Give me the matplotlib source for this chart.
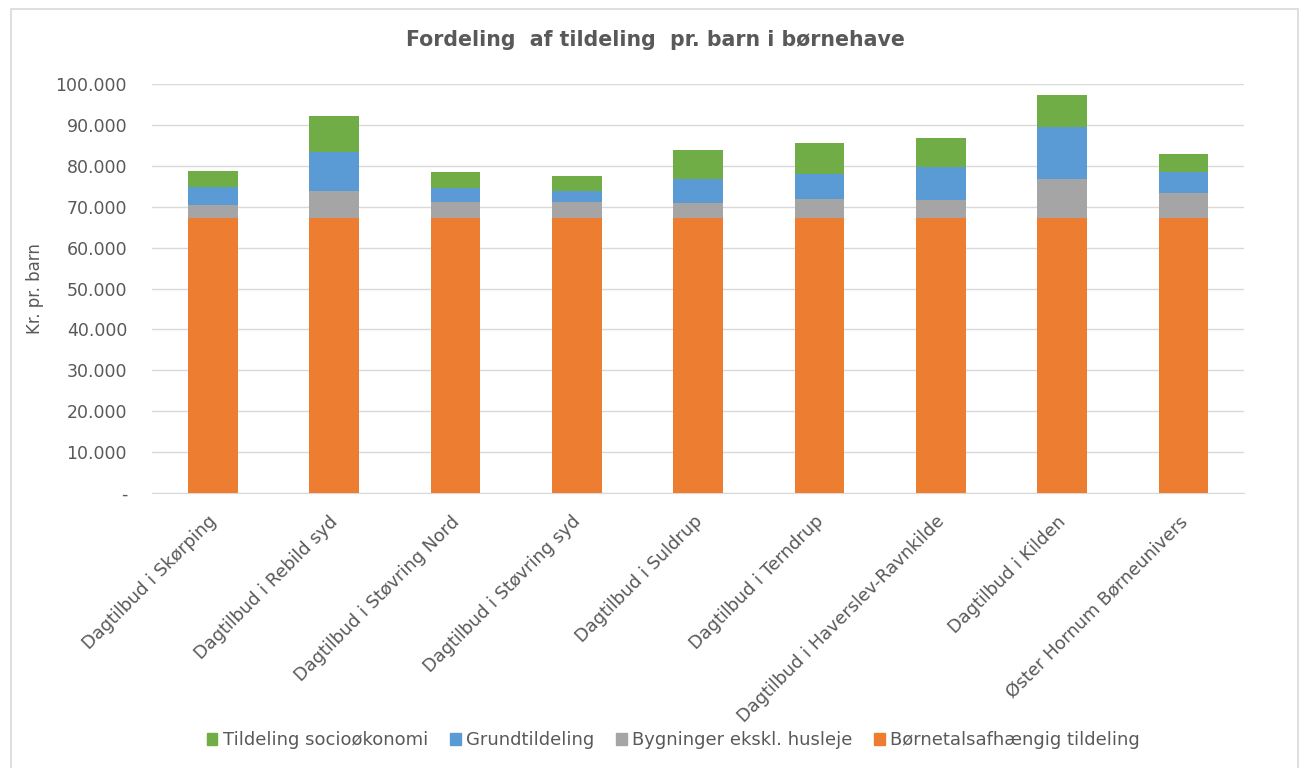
import matplotlib.pyplot as plt
from matplotlib.patches import Patch, Rectangle
from matplotlib.ticker import FuncFormatter
import matplotlib.transforms as mtransforms
import numpy as np

institutions = [
    'Dagtilbud i Skørping',
    'Dagtilbud i Rebild syd',
    'Dagtilbud i Støvring Nord',
    'Dagtilbud i Støvring syd',
    'Dagtilbud i Suldrup',
    'Dagtilbud i Terndrup',
    'Dagtilbud i Haverslev-Ravnkilde',
    'Dagtilbud i Kilden',
    'Øster Hornum Børneunivers',
]

# kr. pr. barn, one list per allocation component
boernetal = [67200, 67200, 67200, 67200, 67200, 67200, 67200, 67200, 67200]
bygninger = [3200, 6600, 4000, 4000, 3600, 4800, 4400, 9600, 6200]
grundtildeling = [4500, 9600, 3400, 2600, 6000, 6000, 8200, 12600, 5200]
socio = [3800, 8800, 3800, 3800, 7100, 7700, 7100, 7800, 4200]

c_orange = '#ED7D31'
c_gray = '#A5A5A5'
c_blue = '#5B9BD5'
c_green = '#70AD47'
txt = '#595959'

plt.rcParams['font.family'] = 'DejaVu Sans'

fig = plt.figure(figsize=(13, 7.68), dpi=100)
ax = fig.add_axes([0.117, 0.358, 0.840, 0.5326])

x = np.arange(len(institutions))
w = 0.41
b1 = np.array(boernetal)
b2 = b1 + np.array(bygninger)
b3 = b2 + np.array(grundtildeling)

ax.bar(x, boernetal, w, color=c_orange, zorder=3)
ax.bar(x, bygninger, w, bottom=b1, color=c_gray, zorder=3)
ax.bar(x, grundtildeling, w, bottom=b2, color=c_blue, zorder=3)
ax.bar(x, socio, w, bottom=b3, color=c_green, zorder=3)

ax.set_xlim(-0.5, len(institutions) - 0.5)
ax.set_ylim(0, 100000)
ax.set_yticks(np.arange(0, 100001, 10000))


def kr_fmt(v, pos):
    if v == 0:
        return '-'
    return f'{int(v):,}'.replace(',', '.')


ax.yaxis.set_major_formatter(FuncFormatter(kr_fmt))
ax.grid(axis='y', color='#d9d9d9', linewidth=1, zorder=0)
for s in ['left', 'right', 'top']:
    ax.spines[s].set_visible(False)
ax.spines['bottom'].set_color('#d9d9d9')
ax.tick_params(axis='both', length=0, colors=txt)
ax.tick_params(axis='y', pad=18, labelsize=12.5)

ax.set_xticks(x)
ax.set_xticklabels(institutions, rotation=45, ha='right', va='top',
                   rotation_mode='anchor', color=txt, fontsize=12.8)
ax.tick_params(axis='x', pad=14)
shift = mtransforms.ScaledTranslation(-5 / 100, 0, fig.dpi_scale_trans)
for lbl in ax.get_xticklabels():
    lbl.set_transform(lbl.get_transform() + shift)

ax.set_ylabel('Kr. pr. barn', color=txt, fontsize=12, labelpad=8)
fig.text(0.504, 0.948, 'Fordeling  af tildeling  pr. barn i børnehave',
         ha='center', va='center', fontsize=14.8, fontweight='bold', color=txt)

handles = [
    Patch(color=c_green, label='Tildeling socioøkonomi'),
    Patch(color=c_blue, label='Grundtildeling'),
    Patch(color=c_gray, label='Bygninger ekskl. husleje'),
    Patch(color=c_orange, label='Børnetalsafhængig tildeling'),
]
fig.legend(handles=handles, loc='center', bbox_to_anchor=(0.518, 0.036),
           ncol=4, frameon=False, fontsize=13, handlelength=0.6,
           handleheight=0.6, handletextpad=0.3, columnspacing=1.2,
           labelcolor=txt)

# chart border
fig.add_artist(Rectangle((11 / 1300, -0.01), 1287 / 1300, 1 - 9 / 768 + 0.01,
                         transform=fig.transFigure, fill=False,
                         edgecolor='#d9d9d9', linewidth=1.2))

fig.savefig('out.png', dpi=100)
